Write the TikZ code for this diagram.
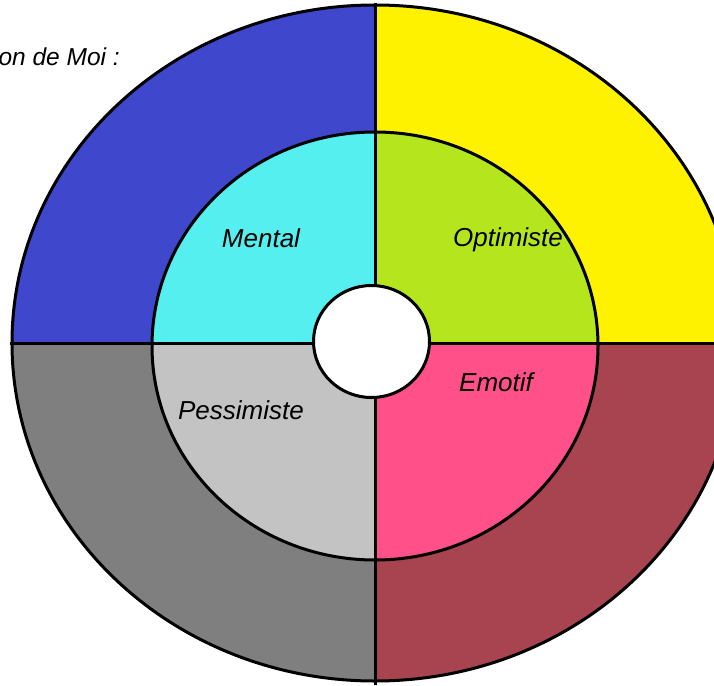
\documentclass[tikz,border=0pt]{standalone}
\usepackage{fontspec}
\setmainfont{Liberation Sans}
\definecolor{cBlue}{HTML}{3F48CC}
\definecolor{cYellow}{HTML}{FFF200}
\definecolor{cGray}{HTML}{7F7F7F}
\definecolor{cMaroon}{HTML}{A7444F}
\definecolor{cCyan}{HTML}{55EFF0}
\definecolor{cLime}{HTML}{B5E61D}
\definecolor{cLight}{HTML}{C3C3C3}
\definecolor{cPink}{HTML}{FF5089}
\tikzset{
  lbl/.style={font=\fontsize{26}{30}\selectfont\itshape, inner sep=0pt, text=black},
  ttl/.style={font=\fontsize{24.5}{28}\selectfont\itshape, inner sep=0pt, text=black},
  rim/.style={draw=black, line width=3pt}
}
\begin{document}
\begin{tikzpicture}[x=1pt,y=-1pt]
\useasboundingbox (0,0) rectangle (714,685);
\fill[white] (0,0) rectangle (714,685);
\clip (0,0) rectangle (714,685);
\coordinate (c) at (375,343);
% outer ring
\begin{scope}
  \clip (c) ellipse [x radius=363pt, y radius=338pt];
  \fill[cBlue] (0,0) rectangle (c);
  \fill[cYellow] (375,0) rectangle (750,343);
  \fill[cGray] (0,343) rectangle (375,690);
  \fill[cMaroon] (375,343) rectangle (750,690);
\end{scope}
\draw[rim] (c) ellipse [x radius=363pt, y radius=338pt];
% inner ring
\begin{scope}
  \clip (375,346) ellipse [x radius=223pt, y radius=214pt];
  \fill[cCyan] (0,0) rectangle (c);
  \fill[cLime] (375,0) rectangle (750,343);
  \fill[cLight] (0,343) rectangle (375,690);
  \fill[cPink] (375,343) rectangle (750,690);
\end{scope}
\draw[rim] (375,346) ellipse [x radius=223pt, y radius=214pt];
% dividing lines
\draw[black, line width=3pt] (375,3) -- (375,685);
\draw[black, line width=3pt] (10,343) -- (714,343);
% centre
\fill[white] (371.5,341.5) ellipse [x radius=58pt, y radius=56pt];
\draw[rim] (371.5,341.5) ellipse [x radius=58pt, y radius=56pt];
% labels
\node[lbl] (mental) at (261,238) {Mental};
\node[lbl] (opt) at (508,240) {Optimiste};
\node[lbl] (pess) at (241,410) {Pessimiste};
\node[lbl] (emo) at (496,382) {Emotif};
\node[ttl, anchor=base east] (title) at (120,65) {on de Moi :};
\end{tikzpicture}
\end{document}
